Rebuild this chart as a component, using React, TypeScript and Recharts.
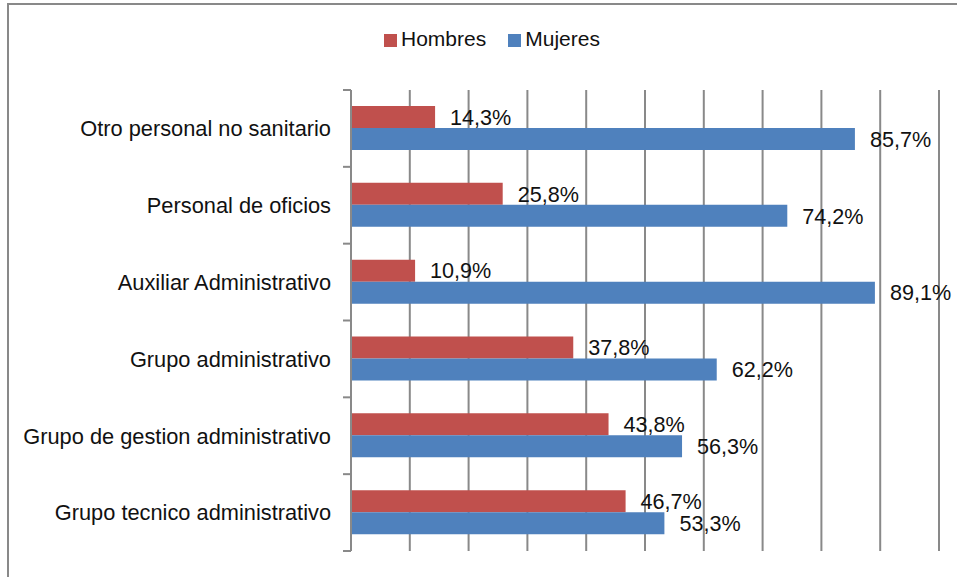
import { BarChart, Bar, XAxis, YAxis, CartesianGrid, Legend, LabelList } from "recharts";

const categories = [
  "Otro personal no sanitario",
  "Personal de oficios",
  "Auxiliar Administrativo",
  "Grupo administrativo",
  "Grupo de gestion administrativo",
  "Grupo tecnico administrativo",
];
const hombres = [14.3, 25.8, 10.9, 37.8, 43.8, 46.7];
const mujeres = [85.7, 74.2, 89.1, 62.2, 56.3, 53.3];
const seriesNames = ["Hombres", "Mujeres"];
const seriesColors = ["#C0504D", "#4F81BD"];
const xTicks = [0, 10, 20, 30, 40, 50, 60, 70, 80, 90, 100];

const data = categories.map((name, i) => ({ name, hombres: hombres[i], mujeres: mujeres[i] }));

const AXIS = "#898989";
const FONT = "'Liberation Sans', Arial, Helvetica, sans-serif";

const fmt = (v: any) => Number(v).toFixed(1).replace(".", ",") + "%";

function CategoryTick(props: any) {
  const { x, y, payload, index, visibleTicksCount } = props;
  const half = payload && typeof payload.offset === "number" && payload.offset > 0 ? payload.offset : 38.4;
  return (
    <g>
      <line x1={x - 8} x2={x} y1={y - half} y2={y - half} stroke={AXIS} strokeWidth={2} />
      {index === visibleTicksCount - 1 && (
        <line x1={x - 8} x2={x} y1={y + half} y2={y + half} stroke={AXIS} strokeWidth={2} />
      )}
      <text x={x - 20} y={y} dy="0.36em" textAnchor="end" fill="#111" fontSize={21.8}>
        {payload.value}
      </text>
    </g>
  );
}

function LegendContent() {
  return (
    <div style={{ display: "flex", alignItems: "center", fontSize: 21, lineHeight: "24px", color: "#111" }}>
      {seriesNames.map((n, i) => (
        <div key={n} style={{ display: "flex", alignItems: "center", marginRight: i === 0 ? 22 : 0 }}>
          <span style={{ display: "inline-block", width: 13, height: 13, background: seriesColors[i], marginRight: 4, marginTop: 3 }} />
          <span>{n}</span>
        </div>
      ))}
    </div>
  );
}

export default function App() {
  return (
    <div style={{ position: "fixed", left: 0, top: 0, width: 957, height: 577, overflow: "hidden", background: "#fff", fontFamily: FONT }}>
      <div style={{ position: "absolute", left: 7, top: 3, width: 1200, height: 1200, border: `2px solid ${AXIS}` }} />
      <div style={{ position: "absolute", left: 0, top: 0 }}>
        <BarChart
          width={957}
          height={577}
          data={data}
          layout="vertical"
          margin={{ top: 90, right: 18, bottom: 26, left: 11 }}
          barSize={22}
          barGap={0}
        >
          <CartesianGrid horizontal={false} vertical stroke={AXIS} strokeWidth={2} />
          <XAxis type="number" domain={[0, 100]} ticks={xTicks} interval={0} height={0} tick={() => <g />} axisLine={false} tickLine={false} />
          <YAxis
            type="category"
            dataKey="name"
            width={340}
            axisLine={{ stroke: AXIS, strokeWidth: 2 }}
            tickLine={false}
            tickSize={0}
            tickMargin={0}
            interval={0}
            tick={<CategoryTick />}
          />
          <Legend verticalAlign="middle" wrapperStyle={{ top: 27, left: 384, width: "auto" }} content={<LegendContent />} />
          <Bar dataKey="hombres" name={seriesNames[0]} fill={seriesColors[0]} isAnimationActive={false}>
            <LabelList dataKey="hombres" position="right" offset={15} formatter={fmt} fill="#111" fontSize={21.6} />
          </Bar>
          <Bar dataKey="mujeres" name={seriesNames[1]} fill={seriesColors[1]} isAnimationActive={false}>
            <LabelList dataKey="mujeres" position="right" offset={15} formatter={fmt} fill="#111" fontSize={21.6} />
          </Bar>
        </BarChart>
      </div>
    </div>
  );
}
